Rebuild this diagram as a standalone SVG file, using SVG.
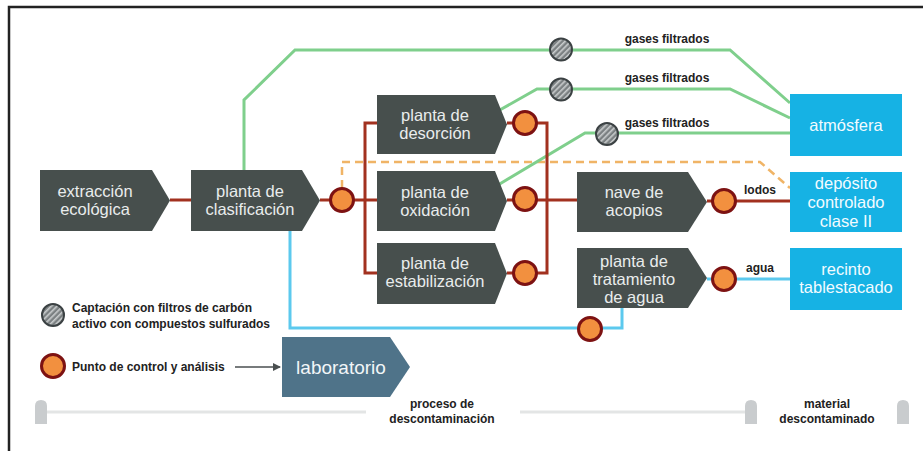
<svg xmlns="http://www.w3.org/2000/svg" width="923" height="451" viewBox="0 0 923 451">
<defs>
<pattern id="hatch" patternUnits="userSpaceOnUse" width="4" height="4" patternTransform="rotate(-45)">
<rect width="4" height="4" fill="#7b8082"/>
<rect width="4" height="1.6" fill="#c9cccd"/>
</pattern>
<marker id="arr" markerWidth="8" markerHeight="8" refX="7" refY="4" orient="auto" markerUnits="userSpaceOnUse">
<path d="M0,0 L8,4 L0,8 Z" fill="#4a4f50"/>
</marker>
<symbol id="pin" viewBox="0 0 12 24" overflow="visible">
<path d="M0,24 L0,6 Q0,0 6,0 Q12,0 12,6 L12,24 Z" fill="#c9ccce"/>
</symbol>
</defs>
<style>
.dark{fill:#474f4d}
.blue{fill:#16b2e4}
.lab{fill:#4f7389}
.t{font-family:"Liberation Sans",Arial,sans-serif;font-size:16.5px;fill:#e9ecec;text-anchor:middle}
.tb{font-family:"Liberation Sans",Arial,sans-serif;font-size:16.5px;fill:#f2fbff;text-anchor:middle}
.s{font-family:"Liberation Sans",Arial,sans-serif;font-size:12px;font-weight:bold;fill:#222}
.sc{font-family:"Liberation Sans",Arial,sans-serif;font-size:12px;font-weight:bold;fill:#222;text-anchor:middle}
.red{fill:none;stroke:#a2311f;stroke-width:3}
.grn{fill:none;stroke:#7fcf8c;stroke-width:3}
.cyan{fill:none;stroke:#5cc9ee;stroke-width:3}
.dash{fill:none;stroke:#f0b466;stroke-width:2.5;stroke-dasharray:8 5}
.cp{fill:#f2903f;stroke:#7d1212;stroke-width:3}
.fl{fill:url(#hatch);stroke:#3b4143;stroke-width:2}
</style>
<rect x="0" y="0" width="923" height="451" fill="#fff"/>
<path d="M9,451 L9,7 L923,7" fill="none" stroke="#222" stroke-width="2.5"/>

<g id="connectors">
<path class="grn" d="M244,170 L244,100 L295,50 L730,50 L790,103"/>
<path class="grn" d="M498,111 L537,89 L730,89 L790,118"/>
<path class="dash" d="M342,188 L342,162 L760,162 L790,188"/>
<path class="grn" d="M498,185 L585,133 L790,133"/>
<path class="red" d="M170,200 L191,200"/>
<path class="red" d="M320,200 L365,200"/>
<path class="red" d="M377,123 L365,123 L365,273 L377,273"/>
<path class="red" d="M365,200 L377,200"/>
<path class="red" d="M507,123 L547,123 L547,273 L507,273"/>
<path class="red" d="M507,200 L577,200"/>
<path class="red" d="M707,201 L790,201"/>
<path class="cyan" d="M290,231 L290,328 L622,328 L622,308"/>
<path class="cyan" d="M707,279 L790,279"/>
<path d="M235,367 L280,367" fill="none" stroke="#4a4f50" stroke-width="1.5" marker-end="url(#arr)"/>
<path d="M40,412 L366,412 M520,412 L747,412" fill="none" stroke="#e3e5e5" stroke-width="3"/>
</g>

<g id="filters">
<circle class="fl" cx="561" cy="49.5" r="11"/>
<circle class="fl" cx="561" cy="89.5" r="11"/>
<circle class="fl" cx="607" cy="134" r="11"/>
</g>
<g id="controls">
<circle class="cp" cx="342" cy="200" r="11.5"/>
<circle class="cp" cx="525" cy="123" r="11.5"/>
<circle class="cp" cx="525" cy="199" r="11.5"/>
<circle class="cp" cx="525" cy="273" r="11.5"/>
<circle class="cp" cx="724" cy="201" r="11.5"/>
<circle class="cp" cx="724" cy="279" r="11.5"/>
<circle class="cp" cx="590" cy="329" r="11.5"/>
</g>

<g id="labels">
<text class="sc" x="667" y="43">gases filtrados</text>
<text class="sc" x="667" y="82">gases filtrados</text>
<text class="sc" x="667" y="127">gases filtrados</text>
<text class="sc" x="760" y="194">lodos</text>
<text class="sc" x="760" y="272">agua</text>
</g>

<g id="extraccion">
<path class="dark" d="M40,170 L152,170 L170,200.5 L152,231 L40,231 Z"/>
<text class="t" x="95" y="197">extracción</text>
<text class="t" x="95" y="215">ecológica</text>
</g>
<g id="clasificacion">
<path class="dark" d="M191,170 L302,170 L320,200.5 L302,231 L191,231 Z"/>
<text class="t" x="250" y="197">planta de</text>
<text class="t" x="250" y="215">clasificación</text>
</g>
<g id="desorcion">
<path class="dark" d="M377,95 L495,95 L507,124.5 L495,154 L377,154 Z"/>
<text class="t" x="435" y="121">planta de</text>
<text class="t" x="435" y="139">desorción</text>
</g>
<g id="oxidacion">
<path class="dark" d="M377,171 L495,171 L507,201 L495,231 L377,231 Z"/>
<text class="t" x="435" y="197.5">planta de</text>
<text class="t" x="435" y="215.5">oxidación</text>
</g>
<g id="estabilizacion">
<path class="dark" d="M377,243 L495,243 L507,273.5 L495,304 L377,304 Z"/>
<text class="t" x="435" y="269">planta de</text>
<text class="t" x="435" y="287">estabilización</text>
</g>
<g id="nave">
<path class="dark" d="M577,172 L688,172 L707,202 L688,232 L577,232 Z"/>
<text class="t" x="634" y="198">nave de</text>
<text class="t" x="634" y="216">acopios</text>
</g>
<g id="tratamiento">
<path class="dark" d="M577,248 L688,248 L707,278 L688,308 L577,308 Z"/>
<text class="t" x="634" y="267">planta de</text>
<text class="t" x="634" y="285">tratamiento</text>
<text class="t" x="634" y="303">de agua</text>
</g>
<g id="atmosfera">
<rect class="blue" x="790" y="94" width="112" height="62"/>
<text class="tb" x="846" y="131">atmósfera</text>
</g>
<g id="deposito">
<rect class="blue" x="790" y="172" width="112" height="60"/>
<text class="tb" x="846" y="189">depósito</text>
<text class="tb" x="846" y="208">controlado</text>
<text class="tb" x="846" y="227">clase II</text>
</g>
<g id="recinto">
<rect class="blue" x="790" y="248" width="112" height="62"/>
<text class="tb" x="846" y="275">recinto</text>
<text class="tb" x="846" y="293">tablestacado</text>
</g>
<g id="laboratorio">
<path class="lab" d="M282,337 L390,337 L410,367 L390,397 L282,397 Z"/>
<text x="341" y="374" style="font-family:'Liberation Sans',Arial,sans-serif;font-size:19px;fill:#f2f6f8;text-anchor:middle">laboratorio</text>
</g>

<g id="legend">
<circle class="fl" cx="53" cy="315" r="11"/>
<text class="s" x="72" y="312">Captación con filtros de carbón</text>
<text class="s" x="72" y="328">activo con compuestos sulfurados</text>
<circle class="cp" cx="53" cy="366" r="11.5"/>
<text class="s" x="72" y="371">Punto de control y análisis</text>
</g>

<g id="scale">
<use href="#pin" x="35" y="400" width="12" height="24"/>
<use href="#pin" x="745" y="400" width="12" height="24"/>
<use href="#pin" x="897" y="400" width="12" height="24"/>
<text class="sc" x="442" y="408">proceso de</text>
<text class="sc" x="442" y="423">descontaminación</text>
<text class="sc" x="827" y="408">material</text>
<text class="sc" x="827" y="423">descontaminado</text>
</g>
</svg>
